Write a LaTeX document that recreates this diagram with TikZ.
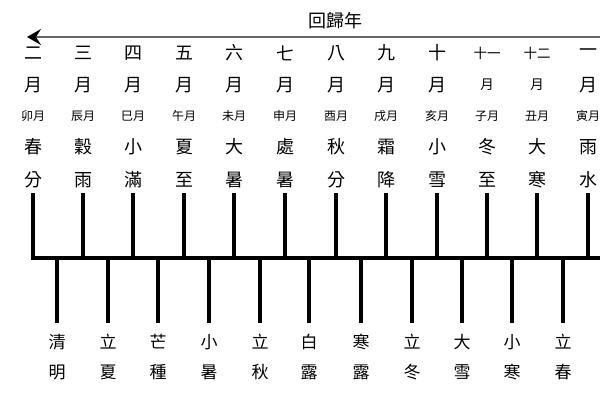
\documentclass[tikz,border=0pt]{standalone}
\usepackage{fontspec}
\setmainfont{Noto Sans CJK TC}
\usetikzlibrary{arrows.meta}
\begin{document}
\begin{tikzpicture}[x=1pt,y=1pt,
  big/.style={font=\fontsize{18}{18}\selectfont, inner sep=0pt},
  mid/.style={font=\fontsize{13.5}{14}\selectfont, inner sep=0pt},
  small/.style={font=\fontsize{12}{12}\selectfont, inner sep=0pt},
  lab/.style={font=\fontsize{17}{17}\selectfont, inner sep=0pt},
  ttl/.style={font=\fontsize{18}{18}\selectfont, inner sep=0pt},
  bar/.style={line width=4pt},
  axis/.style={line width=1.6pt, draw=black!60}]
\fill[white] (0,0) rectangle (600,-400);
\useasboundingbox (0,0) rectangle (600,-400);
% year arrow
\coordinate (arrR) at (600,-37);
\coordinate (arrL) at (27,-37);
\draw[axis, -{Stealth[black,length=14pt,width=16pt,inset=5pt]}] (arrR) -- (arrL);
\node[ttl] (year) at (335,-21) {回歸年};
% upper columns
\foreach \x/\s/\n/\b/\ta/\tb [count=\i] in {
  33/big/二/卯/春/分, 83/big/三/辰/穀/雨, 133/big/四/巳/小/滿,
  184/big/五/午/夏/至, 234/big/六/未/大/暑, 285/big/七/申/處/暑,
  336/big/八/酉/秋/分, 386/big/九/戌/霜/降, 437/big/十/亥/小/雪,
  487/mid/十一/子/冬/至, 537/mid/十二/丑/大/寒, 588/big/一/寅/雨/水}{
  \node[\s] (n\i) at (\x,-53) {\n};
  \node[\s] (m\i) at (\x,-85) {月};
  \node[small] (b\i) at (\x,-116) {\b 月};
  \node[big] (ta\i) at (\x,-147) {\ta};
  \node[big] (tb\i) at (\x,-180) {\tb};
  \coordinate (ut\i) at (\x,-193);
  \coordinate (ub\i) at (\x,-258);
  \draw[bar] (ut\i) -- (ub\i);
}
% main bar
\coordinate (barL) at (31,-258);
\coordinate (barR) at (600,-258);
\draw[bar] (barL) -- (barR);
% lower columns
\foreach \x/\ta/\tb [count=\i] in {
  57/清/明, 108/立/夏, 158/芒/種, 209/小/暑, 260/立/秋, 309/白/露,
  361/寒/露, 412/立/冬, 462/大/雪, 512/小/寒, 563/立/春}{
  \coordinate (lt\i) at (\x,-258);
  \coordinate (lb\i) at (\x,-323);
  \draw[bar] (lt\i) -- (lb\i);
  \node[lab] (la\i) at (\x,-342) {\ta};
  \node[lab] (lb\i) at (\x,-372) {\tb};
}
\end{tikzpicture}
\end{document}
